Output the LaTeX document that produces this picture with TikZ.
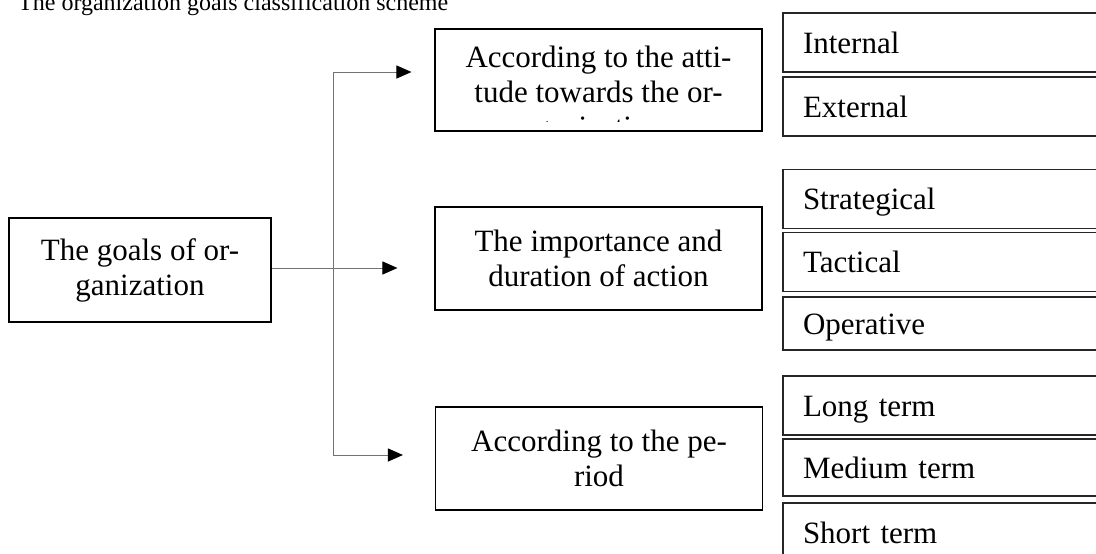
\documentclass[tikz,border=0pt]{standalone}
\usepackage{fontspec}
\setmainfont{Liberation Serif}
\usetikzlibrary{arrows.meta}

\begin{document}
\begin{tikzpicture}[x=1pt,y=-1pt,
        box/.style={draw,line width=1.1pt,minimum width=327pt,minimum height=103pt,inner sep=0pt,align=center,font=\fontsize{31}{35}\selectfont},
        item/.style={draw=black!85,line width=1.1pt,minimum width=327pt,minimum height=59pt,text width=287pt,inner xsep=20pt,inner ysep=0pt,align=left,text height=21pt,text depth=0pt,font=\fontsize{31}{35}\selectfont},
        conn/.style={draw=black!55,line width=1pt},
        arr/.style={conn,-{Triangle[length=15pt,width=13pt,color=black]}}]
    \clip (0,0) rectangle (1096,554);
    \node[anchor=base west,inner sep=0pt,font=\fontsize{24}{28}\selectfont] (title) at (18,10) {The organization goals classification scheme};

    \node[box,minimum width=262pt,minimum height=104pt] (goals) at (140,270) {The goals of or-\\ganization};

    % first group, its text runs over the bottom of the box
    \node[box,minimum height=102pt] (attitude) at (598.5,80) {};
    \begin{scope}
        \clip (436,30) rectangle (761,121);
        \node[anchor=north,inner sep=0pt,align=center,font=\fontsize{31}{35}\selectfont] (attitudetext) at (598.5,46) {According to the atti-\\tude towards the or-\\ganization};
    \end{scope}
    \node[item] (internal) at (946.5,42.5) {Internal};
    \node[item] (external) at (946.5,106.5) {External};

    \node[box] (importance) at (598.5,258.5) {The importance and\\duration of action};
    \node[item] (strategical) at (946.5,199) {Strategical};
    \node[item] (tactical) at (946.5,262) {Tactical};
    \node[item,minimum height=53pt] (operative) at (946.5,323.5) {Operative};

    \node[box] (period) at (599,458.5) {According to the pe-\\riod};
    \node[item] (long) at (946.5,405.5) {Long term};
    \node[item,minimum height=57pt] (medium) at (946.5,467.5) {Medium term};
    \node[item] (short) at (946.5,532.5) {Short term};

    % branches
    \coordinate (t1) at (333,72);
    \coordinate (t2) at (333,268);
    \coordinate (t3) at (333,455);
    \draw[conn] (goals.east |- t2) -- (t2);
    \draw[conn] (t1) -- (t3);
    \draw[arr,shorten >=23pt] (t1) -- (t1 -| attitude.west);
    \draw[arr,shorten >=37pt] (t2) -- (t2 -| importance.west);
    \draw[arr,shorten >=32pt] (t3) -- (t3 -| period.west);
\end{tikzpicture}
\end{document}
